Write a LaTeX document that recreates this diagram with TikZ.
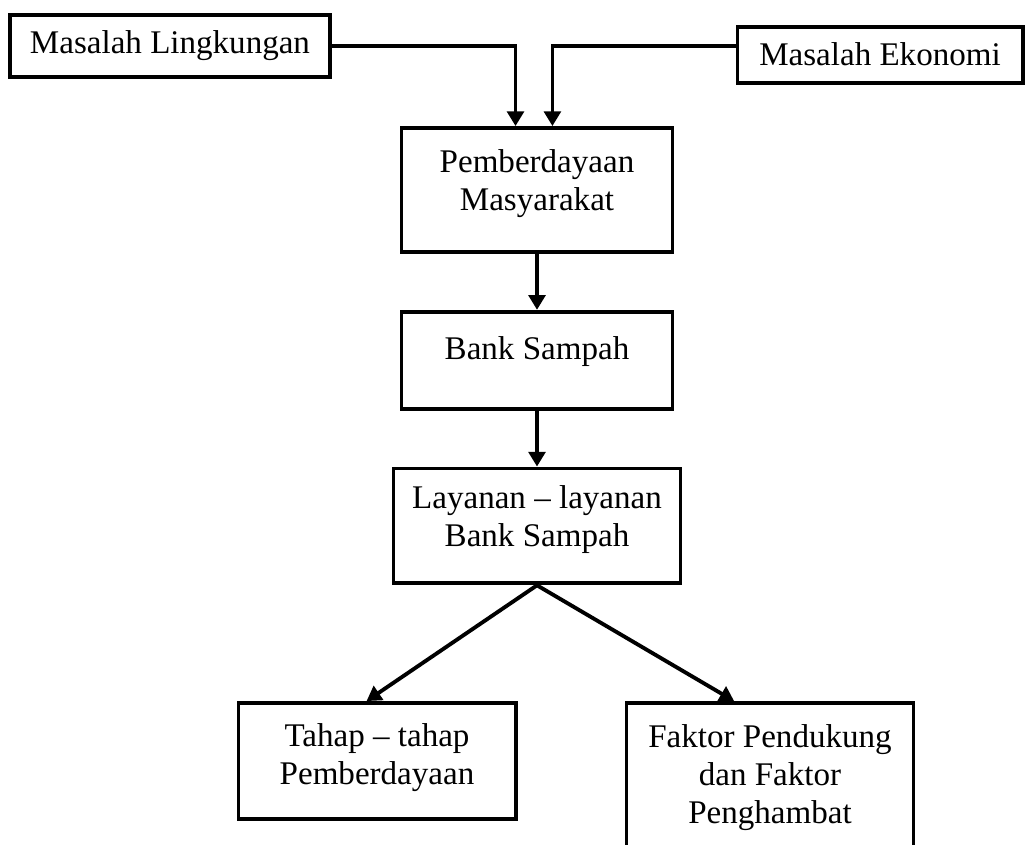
\documentclass[tikz,border=0pt]{standalone}
\usepackage{fontspec}
\setmainfont{Liberation Serif}
\usetikzlibrary{positioning,arrows.meta}

\begin{document}
\begin{tikzpicture}[-{Triangle[length=5.3pt,width=6pt]},
    x=0.363pt,y=-0.363pt,
    line width=1.4pt,
    node distance=20.3pt,
    box/.style={draw,align=center,inner sep=2pt,
        font=\fontsize{12}{13.8}\selectfont}]
    \clip (0,0) rectangle (1025,845);
    \node[box,minimum width=116pt,minimum height=22.5pt] (ling) at (170,46) {Masalah Lingkungan};
    \node[box,minimum width=103.5pt,minimum height=20.3pt,text depth=1pt] (eko) at (880,55) {Masalah Ekonomi};
    \node[box,minimum width=98.4pt,minimum height=45pt,text depth=7pt] (pmb) at (537,190) {Pemberdayaan\\Masyarakat};
    \node[box,minimum width=98.4pt,minimum height=35.2pt,text depth=9pt] (bank) [below=of pmb] {Bank Sampah};
    \node[box,minimum width=104.2pt,minimum height=41.7pt,text depth=7pt] (lay) [below=of bank] {Layanan – layanan\\Bank Sampah};
    \node[box,minimum width=100.6pt,minimum height=42.1pt,text depth=4.8pt] (tah) at (377,761) {Tahap – tahap\\Pemberdayaan};
    \node[box,minimum width=104.2pt,minimum height=56.6pt,text depth=4.8pt] (fak) at (770,781) {Faktor Pendukung\\dan Faktor\\Penghambat};
    \draw (ling.east) -| ([xshift=-7.8pt]pmb.north);
    \draw (eko.west |- ling.east) -| ([xshift=5.6pt]pmb.north);
    \path (pmb) edge (bank)
          (bank) edge (lay)
          (lay.south) edge ([xshift=-3.8pt]tah.north)
          (lay.south) edge ([xshift=-13pt]fak.north);
\end{tikzpicture}
\end{document}
